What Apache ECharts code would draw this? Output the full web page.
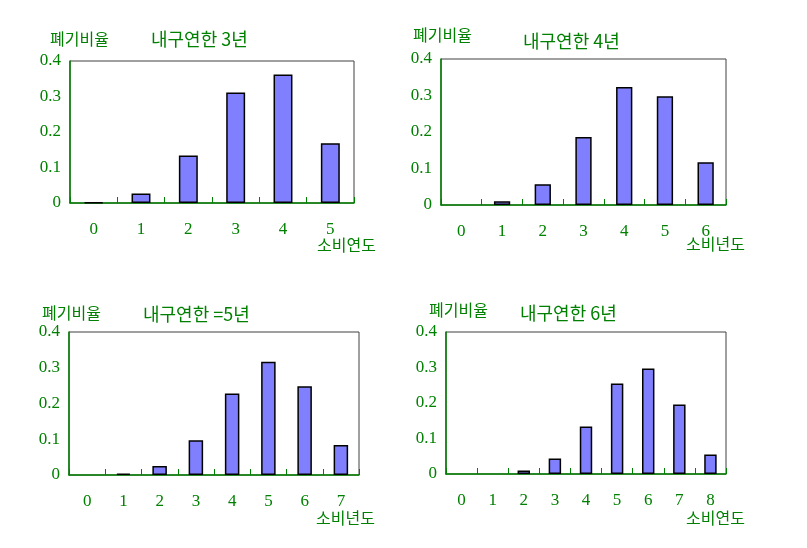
<!DOCTYPE html>
<html><head><meta charset="utf-8">
<script src="https://cdn.jsdelivr.net/npm/echarts@6/dist/echarts.min.js"></script>
<style>html,body{margin:0;padding:0;background:#fff}#c{width:807px;height:548px}</style>
</head><body><div id="c"></div>
<script>
const cats1 = ['0','1','2','3','4','5'];
const cats2 = ['0','1','2','3','4','5','6'];
const cats3 = ['0','1','2','3','4','5','6','7'];
const cats4 = ['0','1','2','3','4','5','6','7','8'];
const vals1 = [0.002, 0.027, 0.134, 0.311, 0.362, 0.168];
const vals2 = [0, 0.010, 0.057, 0.186, 0.323, 0.298, 0.117];
const vals3 = [0, 0.004, 0.025, 0.097, 0.228, 0.317, 0.248, 0.084];
const vals4 = [0, 0, 0.010, 0.044, 0.134, 0.255, 0.297, 0.196, 0.055];
const titles = ['내구연한 3년', '내구연한 4년', '내구연한 =5년', '내구연한 6년'];
const yName = '폐기비율';
const xNames = ['소비연도', '소비년도', '소비년도', '소비연도'];
const yTicks = [0, 0.1, 0.2, 0.3, 0.4];

const G = '#008000';
const cats = [cats1, cats2, cats3, cats4];
const vals = [vals1, vals2, vals3, vals4];
const grids = [
  {left:70, top:61, width:284, height:142},
  {left:441, top:59, width:285, height:146},
  {left:69, top:332, width:290, height:143},
  {left:446, top:332, width:280, height:142}
];
const yNamePos = [[50,39],[413,35],[42,313],[429,310]];
const titlePos = [[151,39],[523,41],[143,314],[520,313]];
const xNamePos = [[317,245],[686,244],[316,518],[686,518]];

const option = {
  animation:false,
  grid: grids.map(g => Object.assign({show:true, borderColor:'#404040', borderWidth:1, backgroundColor:'transparent'}, g)),
  xAxis: cats.map((c,i) => ({
    type:'category', gridIndex:i, data:c, boundaryGap:true,
    axisLine:{lineStyle:{color:G, width:1.5}},
    axisTick:{show:true, inside:true, length:6, lineStyle:{color:G}},
    axisLabel:{color:G, fontFamily:'Liberation Serif', fontSize:17, margin:18}
  })),
  yAxis: cats.map((c,i) => ({
    type:'value', gridIndex:i, min:0, max:0.4, interval:0.1,
    splitLine:{show:false},
    axisLine:{show:true, lineStyle:{color:G, width:1.5}},
    axisTick:{show:false},
    axisLabel:{color:G, fontFamily:'Liberation Serif', fontSize:17, margin:9,
      formatter: v => String(yTicks.find(t => Math.abs(t - v) < 1e-9) ?? v)}
  })),
  series: vals.map((v,i) => ({
    type:'bar', xAxisIndex:i, yAxisIndex:i, barWidth:'40%',
    data: v.map(d => d === 0 ? {value:d, itemStyle:{borderWidth:0}} : d),
    itemStyle:{color:'#8080FF', borderColor:'#000', borderWidth:1.5}
  })),
  graphic: [].concat(
    yNamePos.map(p => ({type:'text', x:p[0], y:p[1], style:{text:yName, fill:G, font:'16px "Noto Sans CJK KR"', textVerticalAlign:'middle'}})),
    titlePos.map((p,i) => ({type:'text', x:p[0], y:p[1], style:{text:titles[i], fill:G, font:'18px "Noto Sans CJK KR"', textVerticalAlign:'middle'}})),
    xNamePos.map((p,i) => ({type:'text', x:p[0], y:p[1], style:{text:xNames[i], fill:G, font:'16px "Noto Sans CJK KR"', textVerticalAlign:'middle'}}))
  )
};
echarts.init(document.getElementById('c')).setOption(option);
</script></body></html>
